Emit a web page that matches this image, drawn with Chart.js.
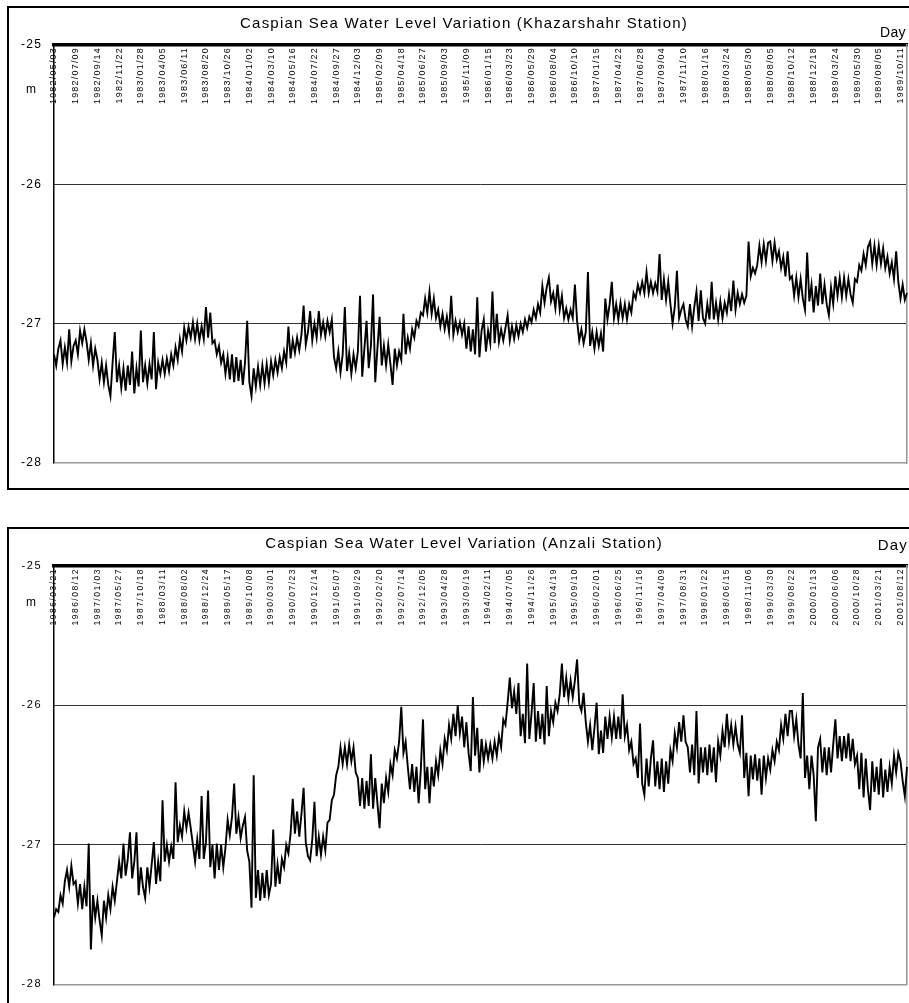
<!DOCTYPE html>
<html><head><meta charset="utf-8">
<script src="https://cdn.jsdelivr.net/npm/chart.js@4.4.0/dist/chart.umd.min.js"></script>
<style>
html,body{margin:0;padding:0;width:909px;height:1003px;overflow:hidden;background:#fff;}
.frame{position:absolute;border:2px solid #000;box-sizing:border-box;}
.txt{position:absolute;font-family:'Liberation Sans',Arial,sans-serif;color:#000;white-space:nowrap;}
.wrap{position:absolute;left:0;width:909px;}
canvas{display:block;}
</style></head><body>
<div class="frame" style="left:7px;top:6px;width:1000px;height:484px;"></div>
<div class="frame" style="left:7px;top:527px;width:1000px;height:600px;"></div>
<div class="wrap" style="top:0;height:500px;"><canvas id="c1" width="909" height="500" style="width:909px;height:500px"></canvas></div>
<div class="wrap" style="top:500px;height:503px;"><canvas id="c2" width="909" height="503" style="width:909px;height:503px"></canvas></div>
<div class="txt" style="left:0;width:928px;text-align:center;top:15.3px;font-size:15px;line-height:15px;letter-spacing:1.2px;">Caspian Sea Water Level Variation (Khazarshahr Station)</div>
<div class="txt" style="left:880px;top:25.2px;font-size:14px;line-height:14px;letter-spacing:0.3px;">Day</div>
<div class="txt" style="left:26px;top:82.8px;font-size:12px;line-height:12px;">m</div>
<div class="txt" style="left:0;width:928px;text-align:center;top:535.3px;font-size:15px;line-height:15px;letter-spacing:1.2px;">Caspian Sea Water Level Variation (Anzali Station)</div>
<div class="txt" style="left:877.7px;top:537.3px;font-size:15px;line-height:15px;letter-spacing:1.2px;">Day</div>
<div class="txt" style="left:26px;top:595.8px;font-size:12px;line-height:12px;">m</div>
<script>
const khazarTicks = ['1982/05/03','1982/07/09','1982/09/14','1982/11/22','1983/01/28','1983/04/05','1983/06/11','1983/08/20','1983/10/26','1984/01/02','1984/03/10','1984/05/16','1984/07/22','1984/09/27','1984/12/03','1985/02/09','1985/04/18','1985/06/27','1985/09/03','1985/11/09','1986/01/15','1986/03/23','1986/05/29','1986/08/04','1986/10/10','1987/01/15','1987/04/22','1987/06/28','1987/09/04','1987/11/10','1988/01/16','1988/03/24','1988/05/30','1988/08/05','1988/10/12','1988/12/18','1989/03/24','1989/05/30','1989/08/05','1989/10/11'];

const anzaliTicks = ['1986/03/21','1986/08/12','1987/01/03','1987/05/27','1987/10/18','1988/03/11','1988/08/02','1988/12/24','1989/05/17','1989/10/08','1990/03/01','1990/07/23','1990/12/14','1991/05/07','1991/09/29','1992/02/20','1992/07/14','1992/12/05','1993/04/28','1993/09/19','1994/02/11','1994/07/05','1994/11/26','1995/04/19','1995/09/10','1996/02/01','1996/06/25','1996/11/16','1997/04/09','1997/08/31','1998/01/22','1998/06/15','1998/11/06','1999/03/30','1999/08/22','2000/01/13','2000/06/06','2000/10/28','2001/03/21','2001/08/12'];

// water level (m), Khazarshahr station
const khazarLevel = [
-27.22,-27.30,-27.18,-27.12,-27.29,-27.17,-27.28,-27.04,-27.27,-27.16,
-27.12,-27.22,-27.05,-27.14,-27.04,-27.13,-27.26,-27.14,-27.30,-27.18,
-27.26,-27.40,-27.28,-27.42,-27.30,-27.44,-27.52,-27.28,-27.06,-27.42,
-27.30,-27.46,-27.32,-27.48,-27.30,-27.44,-27.20,-27.50,-27.32,-27.45,
-27.05,-27.42,-27.30,-27.43,-27.29,-27.40,-27.06,-27.47,-27.28,-27.36,
-27.26,-27.36,-27.25,-27.34,-27.22,-27.30,-27.17,-27.26,-27.11,-27.20,
-27.03,-27.12,-27.02,-27.10,-26.99,-27.11,-27.00,-27.12,-27.02,-27.11,
-26.88,-27.10,-26.92,-27.14,-27.12,-27.22,-27.16,-27.28,-27.22,-27.36,
-27.24,-27.40,-27.22,-27.42,-27.24,-27.41,-27.26,-27.44,-27.28,-26.98,
-27.42,-27.52,-27.32,-27.45,-27.31,-27.44,-27.30,-27.43,-27.29,-27.42,
-27.27,-27.37,-27.26,-27.35,-27.24,-27.32,-27.20,-27.28,-27.02,-27.25,
-27.12,-27.21,-27.10,-27.19,-27.08,-26.87,-27.15,-27.06,-26.91,-27.12,
-27.00,-27.10,-26.91,-27.08,-26.99,-27.09,-26.98,-27.06,-26.97,-27.24,
-27.32,-27.20,-27.35,-27.22,-26.88,-27.34,-27.21,-27.36,-27.22,-27.32,
-27.20,-26.80,-27.38,-27.18,-26.98,-27.32,-27.16,-26.79,-27.42,-27.18,
-26.95,-27.30,-27.16,-27.30,-27.15,-27.29,-27.44,-27.18,-27.30,-27.20,
-27.26,-26.93,-27.22,-27.10,-27.18,-27.04,-27.10,-26.98,-27.02,-26.92,
-26.94,-26.82,-26.92,-26.77,-26.93,-26.82,-26.96,-26.90,-27.02,-26.93,
-27.04,-26.95,-27.06,-26.80,-27.08,-26.98,-27.06,-26.99,-27.08,-27.00,
-27.18,-27.02,-27.20,-27.04,-27.22,-26.81,-27.24,-27.05,-26.97,-27.20,
-27.05,-27.14,-26.77,-27.14,-26.93,-27.13,-27.04,-27.12,-27.03,-26.94,
-27.12,-27.02,-27.11,-27.01,-27.09,-27.00,-27.06,-26.97,-27.03,-26.95,
-26.99,-26.90,-26.96,-26.86,-26.92,-26.73,-26.85,-26.74,-26.67,-26.84,
-26.78,-26.89,-26.72,-26.90,-26.80,-26.96,-26.89,-26.97,-26.90,-26.96,
-26.72,-26.98,-27.12,-27.04,-27.14,-27.06,-26.63,-27.16,-27.06,-27.18,
-27.06,-27.16,-27.07,-27.20,-26.82,-26.97,-26.86,-26.70,-26.96,-26.86,
-26.97,-26.85,-26.96,-26.86,-26.97,-26.86,-26.92,-26.78,-26.82,-26.72,
-26.78,-26.70,-26.78,-26.63,-26.78,-26.70,-26.78,-26.71,-26.77,-26.50,
-26.83,-26.68,-26.83,-26.70,-26.86,-27.00,-26.88,-26.62,-26.96,-26.90,
-26.86,-26.97,-27.02,-26.86,-27.02,-26.88,-26.77,-26.98,-26.76,-26.96,
-27.00,-26.86,-26.97,-26.70,-26.97,-26.85,-26.97,-26.84,-26.96,-26.85,
-26.92,-26.79,-26.91,-26.69,-26.90,-26.78,-26.86,-26.79,-26.85,-26.80,
-26.41,-26.66,-26.60,-26.64,-26.58,-26.44,-26.56,-26.43,-26.55,-26.42,
-26.41,-26.55,-26.42,-26.54,-26.48,-26.60,-26.52,-26.66,-26.48,-26.68,
-26.66,-26.80,-26.67,-26.81,-26.68,-26.82,-26.90,-26.49,-26.84,-26.72,
-26.92,-26.73,-26.87,-26.64,-26.86,-26.72,-26.86,-26.94,-26.74,-26.86,
-26.66,-26.80,-26.67,-26.81,-26.67,-26.80,-26.68,-26.79,-26.85,-26.68,
-26.70,-26.58,-26.62,-26.50,-26.58,-26.45,-26.41,-26.57,-26.44,-26.58,
-26.44,-26.57,-26.46,-26.60,-26.52,-26.64,-26.56,-26.68,-26.48,-26.70,
-26.82,-26.72,-26.83,-26.78
];

// water level (m), Anzali station
const anzaliLevel = [
-27.52,-27.46,-27.48,-27.36,-27.42,-27.26,-27.18,-27.30,-27.15,-27.28,
-27.26,-27.42,-27.28,-27.46,-27.30,-27.44,-26.99,-27.75,-27.36,-27.52,
-27.40,-27.54,-27.65,-27.40,-27.52,-27.36,-27.46,-27.30,-27.40,-27.26,
-27.12,-27.24,-26.99,-27.22,-27.10,-26.91,-27.24,-27.12,-26.91,-27.36,
-27.16,-27.30,-27.38,-27.16,-27.30,-27.14,-26.98,-27.28,-27.12,-27.26,
-26.68,-27.12,-27.00,-27.12,-27.01,-27.10,-26.55,-26.98,-26.86,-26.94,
-26.76,-26.88,-26.77,-26.88,-27.00,-27.12,-26.96,-27.10,-26.65,-27.10,
-26.98,-26.61,-27.16,-27.00,-27.24,-26.99,-27.18,-27.00,-27.16,-27.02,
-26.82,-26.93,-26.80,-26.56,-26.92,-26.80,-26.95,-26.86,-26.80,-27.04,
-27.12,-27.45,-26.50,-27.38,-27.18,-27.40,-27.20,-27.38,-27.18,-27.36,
-27.28,-26.89,-27.30,-27.14,-27.28,-27.10,-27.16,-27.00,-27.06,-26.92,
-26.67,-26.92,-26.76,-26.94,-26.78,-26.59,-26.98,-27.08,-27.11,-26.96,
-26.69,-27.08,-26.94,-27.07,-26.94,-27.04,-26.84,-26.82,-26.68,-26.64,
-26.50,-26.44,-26.30,-26.42,-26.30,-26.42,-26.28,-26.40,-26.30,-26.48,
-26.52,-26.72,-26.52,-26.74,-26.54,-26.72,-26.35,-26.74,-26.52,-26.70,
-26.88,-26.56,-26.70,-26.52,-26.62,-26.42,-26.50,-26.32,-26.38,-26.26,
-26.01,-26.34,-26.26,-26.44,-26.60,-26.42,-26.62,-26.44,-26.70,-26.46,
-26.10,-26.60,-26.44,-26.70,-26.44,-26.58,-26.40,-26.50,-26.32,-26.42,
-26.24,-26.32,-26.14,-26.24,-26.06,-26.22,-26.00,-26.20,-26.08,-26.30,
-26.12,-26.34,-26.47,-25.94,-26.36,-26.16,-26.48,-26.24,-26.40,-26.28,
-26.38,-26.28,-26.38,-26.26,-26.36,-26.22,-26.30,-26.10,-26.14,-25.98,
-25.80,-26.02,-25.90,-26.06,-25.84,-26.22,-26.06,-26.27,-25.70,-26.24,
-26.06,-25.84,-26.26,-26.04,-26.24,-26.06,-26.28,-25.86,-26.22,-26.04,
-26.12,-25.98,-26.04,-25.92,-25.70,-25.94,-25.80,-25.95,-25.82,-25.94,
-25.82,-25.67,-25.99,-26.04,-25.91,-26.12,-26.26,-26.14,-26.32,-26.16,
-25.98,-26.35,-26.18,-26.34,-26.08,-26.24,-26.08,-26.23,-26.08,-26.24,
-26.08,-26.24,-25.92,-26.22,-26.14,-26.32,-26.26,-26.42,-26.38,-26.52,
-26.13,-26.56,-26.64,-26.38,-26.58,-26.38,-26.25,-26.58,-26.40,-26.60,
-26.38,-26.62,-26.40,-26.56,-26.32,-26.40,-26.20,-26.30,-26.12,-26.26,
-26.07,-26.26,-26.30,-26.48,-26.28,-26.50,-26.04,-26.56,-26.30,-26.48,
-26.30,-26.50,-26.28,-26.48,-26.30,-26.55,-26.26,-26.36,-26.18,-26.30,
-26.06,-26.26,-26.14,-26.28,-26.15,-26.28,-26.34,-26.07,-26.52,-26.34,
-26.65,-26.36,-26.53,-26.35,-26.54,-26.38,-26.64,-26.36,-26.52,-26.38,
-26.46,-26.32,-26.40,-26.26,-26.32,-26.14,-26.24,-26.06,-26.22,-26.04,
-26.04,-26.22,-26.10,-26.28,-26.38,-25.91,-26.52,-26.36,-26.60,-26.36,
-26.50,-26.83,-26.30,-26.24,-26.48,-26.30,-26.50,-26.30,-26.48,-26.28,
-26.10,-26.38,-26.22,-26.40,-26.22,-26.38,-26.20,-26.40,-26.24,-26.42,
-26.36,-26.60,-26.34,-26.66,-26.38,-26.60,-26.75,-26.40,-26.62,-26.44,
-26.64,-26.38,-26.66,-26.46,-26.62,-26.44,-26.56,-26.36,-26.48,-26.34,
-26.40,-26.54,-26.65,-26.44
];

const yMin = -28, yMax = -25;
const POINTS_PER_LABEL = 10;

function buildCategories(ticks, n) {
  return Array.from({length: n}, (_, i) => i % POINTS_PER_LABEL === 0 ? (ticks[i / POINTS_PER_LABEL] || '') : '');
}

Chart.defaults.font.family = "'Liberation Sans', Arial, sans-serif";
Chart.defaults.color = '#000';

const spacingPlugin = {
  id: 'spacing',
  beforeDraw(chart, args, opts) { chart.ctx.letterSpacing = opts.value || '0px'; },
  afterDraw(chart) { chart.ctx.letterSpacing = '0px'; }
};

function makeChart(id, ticks, values, o) {
  return new Chart(document.getElementById(id), {
    type: 'line',
    data: {
      labels: buildCategories(ticks, values.length),
      datasets: [{ data: values, borderColor: '#000', borderWidth: 1.9, pointRadius: 0, tension: 0, fill: false }]
    },
    options: {
      responsive: false, animation: false, events: [],
      layout: { padding: { left: 0, top: o.padTop, right: 2, bottom: o.padBottom } },
      plugins: { legend: {display: false}, title: {display: false}, tooltip: {enabled: false}, spacing: { value: o.spacing } },
      scales: {
        x: {
          type: 'category', position: { y: yMax },
          grid: { display: false, drawTicks: false },
          border: { display: true, color: '#000', width: 3.5 },
          ticks: { autoSkip: false, maxRotation: 90, minRotation: 90, padding: 2, color: '#000', font: { size: o.xFont } },
          afterFit(s) { s.paddingLeft = 0; s.paddingRight = 0; }
        },
        y: {
          min: yMin, max: yMax, position: 'left',
          ticks: { stepSize: 1, padding: 12, color: '#000', font: { size: o.yFont } },
          grid: { drawTicks: false,
                  color: c => (c.tick && c.tick.value === yMin) ? '#9a9a9a' : '#333',
                  lineWidth: c => (c.tick && c.tick.value === yMin) ? 1.6 : 1 },
          border: { display: true, color: '#000', width: 1.5 },
          afterFit(s) { s.width = 54; }
        },
        y2: {
          min: yMin, max: yMax, position: 'right',
          ticks: { display: false }, grid: { display: false, drawTicks: false },
          border: { display: true, color: '#9a9a9a', width: 1.6 },
          afterFit(s) { s.width = 0; }
        }
      }
    },
    plugins: [spacingPlugin]
  });
}

makeChart('c1', khazarTicks, khazarLevel, { padTop: 45, padBottom: 37, xFont: 9, yFont: 12, spacing: '1.2px' });
makeChart('c2', anzaliTicks, anzaliLevel, { padTop: 66, padBottom: 17, xFont: 8.5, yFont: 11, spacing: '1.5px' });
</script>
</body></html>
